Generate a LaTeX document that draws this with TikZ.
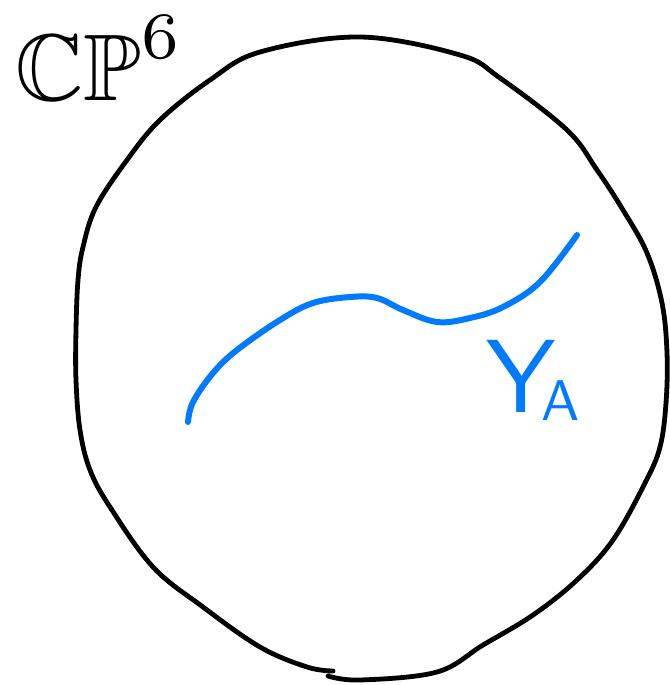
\documentclass[tikz,border=0pt]{standalone}
\usepackage{amssymb}
\usepackage{graphicx}
\definecolor{yblue}{RGB}{0,122,255}
\tikzset{
  outline/.style={line width=3.6pt, line cap=round, line join=round, black},
  sub/.style={line width=4.5pt, line cap=round, line join=round, yblue},
  lbl/.style={inner sep=0pt, outer sep=0pt, anchor=base west}
}
\begin{document}
\begin{tikzpicture}[x=0.75pt,y=-0.75pt]
\useasboundingbox (0,0) rectangle (670,685);
% ambient space outline
\draw[outline] plot[smooth, tension=0.6] coordinates {
 (333,671) (307,667) (260,647) (203,607) (153,567) (110,507) (90,470)
 (80,430) (76,380) (76,330) (78,280) (83,247) (96,207) (127,160)
 (160,120) (210,80) (260,52) (360,37) (460,55) (500,78) (567,130)
 (597,170) (623,210) (647,253) (662,303) (667,353) (666,403) (660,447)
 (645,483) (613,540) (577,580) (533,615) (483,645) (437,672) (360,680)
 (328,676)};
% subvariety Y_A
\draw[sub] plot[smooth, tension=0.6] coordinates {
 (188,422) (193,402) (213,373) (237,350) (280,320) (313,303) (350,297)
 (377,298) (403,310) (437,322) (470,318) (503,307) (540,282) (577,235)};
\node[lbl] (cp) at (15,100) {\scalebox{7.1}{$\mathbb{CP}^6$}};
\node[lbl, text=yblue] (ya) at (486,412)
  {\scalebox{7.8}{$\mathsf{Y}$}\kern-12pt\raisebox{-6pt}{\scalebox{4.3}{$\mathsf{A}$}}};
\end{tikzpicture}
\end{document}
